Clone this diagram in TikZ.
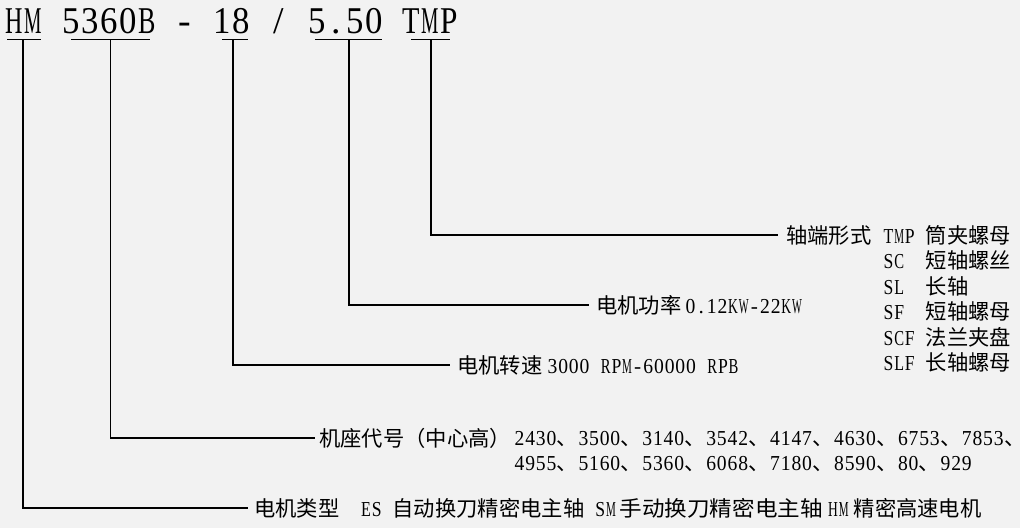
\documentclass[tikz,border=0pt]{standalone}
\usepackage{fontspec}
\usepackage{graphicx}
\setmainfont{Noto Sans CJK SC}
\newfontfamily\lat{Liberation Serif}
\newsavebox\hwbox
\newcommand\hwc[1]{\sbox\hwbox{\lat #1}\ifdim\wd\hwbox>0.47em\relax\makebox[0.5em]{\resizebox{0.46em}{\height}{\lat #1}}\else\makebox[0.5em]{\lat #1}\fi}
\def\hwend{HWEND}
\def\hw#1{\hwloop#1\hwend}
\def\hwloop#1{\ifx#1\hwend\else\hwc{#1}\expandafter\hwloop\fi}
\definecolor{bg}{RGB}{242,242,242}
\tikzset{
  lab/.style={anchor=base west, inner sep=0pt, font=\fontsize{21.3pt}{24pt}\selectfont},
  conn/.style={line width=1.8pt, black},
}
\begin{document}
\begin{tikzpicture}[x=1pt,y=-1pt]
\fill[bg] (0,0) rectangle (1020,528);
\useasboundingbox (0,0) rectangle (1020,528);
% title
\node[anchor=base west, inner sep=0pt, font=\fontsize{37.8pt}{40pt}\selectfont] (title) at (5,33) {\hw{HM~5360B~-~18~/~5.50~TMP}};
% underline midpoints
\coordinate (a1) at (23,39.5);
\coordinate (a2) at (110.5,39.5);
\coordinate (a3) at (233,39.5);
\coordinate (a4) at (349,39.5);
\coordinate (a5) at (431,39.5);
\draw[conn] (7,39.5) -- (41,39.5);
\draw[conn] (71,39.5) -- (150,39.5);
\draw[conn] (222,39.5) -- (248,39.5);
\draw[conn] (315,39.5) -- (382,39.5);
\draw[conn] (411,39.5) -- (450,39.5);
% connector ends
\coordinate (e1) at (248,508);
\coordinate (e2) at (315,438);
\coordinate (e3) at (450,365);
\coordinate (e4) at (589,305);
\coordinate (e5) at (778,235);
\draw[conn] (a1) |- (e1);
\draw[conn] (a2) |- (e2);
\draw[conn] (a3) |- (e3);
\draw[conn] (a4) |- (e4);
\draw[conn] (a5) |- (e5);
% labels: shaft end
\node[lab] (l5) at (786,243) {轴端形式};
\node[lab] (r1) at (883,243) {\hw{TMP~}筒夹螺母};
\node[lab] (r2) at (883,268.5) {\hw{SC~~}短轴螺丝};
\node[lab] (r3) at (883,294) {\hw{SL~~}长轴};
\node[lab] (r4) at (883,319.5) {\hw{SF~~}短轴螺母};
\node[lab] (r5) at (883,345) {\hw{SCF~}法兰夹盘};
\node[lab] (r6) at (883,370) {\hw{SLF~}长轴螺母};
% power
\node[lab] (l4) at (596,313) {电机功率};
\node[lab] (v4) at (685,313) {\hw{0.12KW-22KW}};
% speed
\node[lab] (l3) at (457,373) {电机转速};
\node[lab] (v3) at (547,373) {\hw{3000~RPM-60000~RPB}};
% frame
\node[lab] (l2) at (319,446) {机座代号（中心高）};
\node[lab] (v2a) at (514,445) {\hw{2430}、\hw{3500}、\hw{3140}、\hw{3542}、\hw{4147}、\hw{4630}、\hw{6753}、\hw{7853}\makebox[0.4em][l]{、}};
\node[lab] (v2b) at (514,470) {\hw{4955}、\hw{5160}、\hw{5360}、\hw{6068}、\hw{7180}、\hw{8590}、\hw{80}、\hw{929}};
% type
\node[lab] (l1) at (254,516) {电机类型\hw{~~ES~}自动换刀精密电主轴\hw{~SM}};
\node[lab] (v1b) at (619.5,516) {\resizebox{203pt}{\height}{手动换刀精密电主轴}};
\node[lab] (v1c) at (827.5,516) {\hw{HM}};
\node[lab] (v1d) at (853.5,516) {精密高速电机};
\end{tikzpicture}
\end{document}
